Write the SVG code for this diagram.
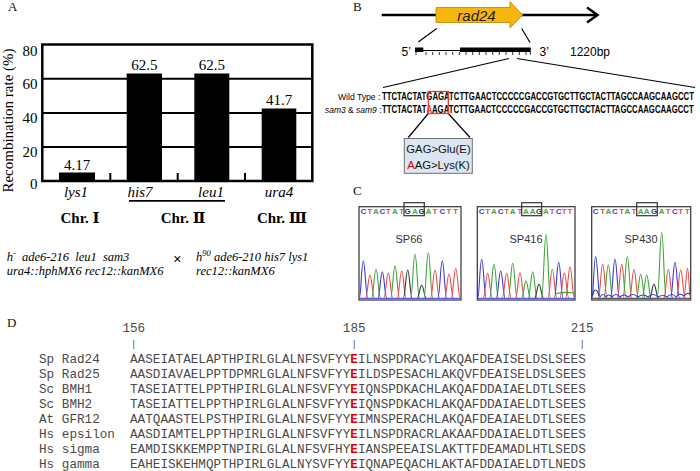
<svg xmlns="http://www.w3.org/2000/svg" width="700" height="471" viewBox="0 0 700 471">
<style>
.serif{font-family:"Liberation Serif","Times New Roman","DejaVu Serif",serif}
.sans{font-family:"Liberation Sans",Arial,sans-serif}
.mono{font-family:"Liberation Mono","Courier New",monospace;font-size:12.67px;fill:#4a4a4a}
.lbl{font-size:13px;fill:#111}
.ax{font-size:15px;fill:#000}
.gene{font-size:15px;font-style:italic}
.chr{font-size:15px;font-weight:bold}
.geno{font-size:12.5px;font-style:italic}
.grid{stroke:#000;stroke-width:2;fill:none}
.bar{fill:#000}
.ln{stroke:#000;stroke-width:1.2;fill:none}
.seqt{font-size:10px;font-weight:bold;fill:#000}
.pk{fill:none;stroke-width:1.1}
.b{stroke:#3b3bd8}.r{stroke:#ee4b45}.g{stroke:#3ca83c}.k{stroke:#333}
.cb{fill:#3b3bd8}.cr{fill:#ee4b45}.cg{fill:#3ca83c}.ck{fill:#333}
.chrom{fill:#fff;stroke:#333;stroke-width:1.2}
.hl{fill:none;stroke:#333;stroke-width:1.2}
.lt{font-size:8px;font-weight:bold}
.sp{font-size:11px;fill:#333}
.E{font-weight:bold;fill:#e00000}
</style>

<!-- Panel A -->
<g id="panelA">
  <text class="serif lbl" x="8" y="11">A</text>
  <text class="serif ax" transform="translate(13,120.5) rotate(-90)" text-anchor="middle">Recombination rate (%)</text>
  <g id="axisA">
    <line class="grid" x1="42.3" y1="78.8" x2="312.3" y2="78.8"/>
    <line class="grid" x1="42.3" y1="112.9" x2="312.3" y2="112.9"/>
    <line class="grid" x1="42.3" y1="146.9" x2="312.3" y2="146.9"/>
    <rect x="42.3" y="44.5" width="270" height="136.5" fill="none" stroke="#000" stroke-width="2.5"/>
    <g class="serif ax" text-anchor="end">
      <text x="37.5" y="55.5">80</text>
      <text x="37.5" y="89">60</text>
      <text x="37.5" y="123">40</text>
      <text x="37.5" y="157">20</text>
      <text x="37.5" y="189">0</text>
    </g>
    <line class="grid" x1="110.3" y1="173" x2="110.3" y2="181"/>
    <line class="grid" x1="177.7" y1="173" x2="177.7" y2="181"/>
    <line class="grid" x1="245" y1="173" x2="245" y2="181"/>
  </g>
  <g id="bar-lys1">
    <rect class="bar" x="59" y="172.5" width="36" height="8.5"/>
    <text class="serif ax" x="77" y="169.5" text-anchor="middle">4.17</text>
    <text class="serif gene" x="76" y="197" text-anchor="middle">lys1</text>
  </g>
  <g id="bar-his7">
    <rect class="bar" x="126.7" y="73.5" width="35.3" height="107.5"/>
    <text class="serif ax" x="144.3" y="70" text-anchor="middle">62.5</text>
    <text class="serif gene" x="140" y="197" text-anchor="middle">his7</text>
  </g>
  <g id="bar-leu1">
    <rect class="bar" x="194.3" y="73.5" width="35" height="107.5"/>
    <text class="serif ax" x="211.8" y="70" text-anchor="middle">62.5</text>
    <text class="serif gene" x="211" y="197" text-anchor="middle">leu1</text>
  </g>
  <g id="bar-ura4">
    <rect class="bar" x="261.7" y="108.5" width="34.6" height="72.5"/>
    <text class="serif ax" x="279" y="105" text-anchor="middle">41.7</text>
    <text class="serif gene" x="279" y="197" text-anchor="middle">ura4</text>
  </g>
  <line x1="129" y1="200.8" x2="225" y2="200.8" stroke="#000" stroke-width="1.8"/>
  <g class="serif chr" text-anchor="middle">
    <text x="80" y="223">Chr.  Ⅰ</text>
    <text x="183" y="223">Chr.  Ⅱ</text>
    <text x="282" y="223">Chr.  Ⅲ</text>
  </g>
  <g id="cross">
    <text class="serif geno" x="6.7" y="260.5" word-spacing="3">h<tspan dy="-5" font-size="8.5">-</tspan><tspan dy="5"> ade6-216 leu1 sam3</tspan></text>
    <text class="serif geno" x="6.7" y="274.5">ura4::hphMX6 rec12::kanMX6</text>
    <text class="sans" x="177.3" y="264" font-size="14" text-anchor="middle">×</text>
    <text class="serif geno" x="196" y="260.5">h<tspan dy="-5" font-size="8.5">90</tspan><tspan dy="5"> ade6-210 his7 lys1</tspan></text>
    <text class="serif geno" x="196" y="274.5">rec12::kanMX6</text>
  </g>
</g>

<!-- Panel B -->
<g id="panelB">
  <text class="serif lbl" x="353" y="10.5">B</text>
  <g id="locus">
    <line x1="381.7" y1="15" x2="597" y2="15" stroke="#000" stroke-width="2.5"/>
    <polyline points="587,7.5 597.5,15 587,22.5" fill="none" stroke="#000" stroke-width="2.5"/>
    <path d="M436,7.5H510V1.5L522.7,15L510,28V22.5H436Z" fill="#f6b60e" stroke="#b88400" stroke-width="0.8"/>
    <text class="sans" x="476.5" y="20.5" font-size="15" font-style="italic" text-anchor="middle" fill="#222">rad24</text>
  </g>
  <g id="connectorsB">
    <line class="ln" x1="436.7" y1="28.5" x2="418.3" y2="42"/>
    <line class="ln" x1="521.7" y1="28.5" x2="530" y2="42.5"/>
    <line class="ln" x1="509" y1="58.5" x2="383" y2="87.5"/>
    <line class="ln" x1="517" y1="58.5" x2="695" y2="87.5"/>
    <line class="ln" x1="428.3" y1="113.5" x2="408.3" y2="137.5"/>
    <line class="ln" x1="448.3" y1="113.5" x2="470" y2="137.5"/>
  </g>
  <g id="genestructure">
    <rect x="415" y="47.5" width="8.3" height="4.5" fill="#000"/>
    <line x1="423" y1="50.5" x2="460" y2="50.5" stroke="#000" stroke-width="1"/>
    <rect x="460" y="47.5" width="70.7" height="4.5" fill="#000"/>
    <path d="M416,52V55M426,52V55M432.7,52V55M439.3,52V55M446,52V55M452.7,52V55M459.3,52V55M466,52V55M472.7,52V55M479.3,52V55M486,52V55M492.7,52V55M499.3,52V55M506,52V55M512.7,52V55M519.3,52V55M526,52V55M530.3,52V55" stroke="#000" stroke-width="0.8"/>
    <text class="sans" x="401.5" y="56" font-size="12">5’</text>
    <text class="sans" x="539.5" y="56" font-size="12">3’</text>
    <text class="sans" x="570" y="56" font-size="12">1220bp</text>
  </g>
  <g id="sequences">
    <text class="sans" transform="translate(338,100) scale(0.896,1)" font-size="9.6">Wild Type :</text>
    <text class="sans seqt" transform="translate(382,100) scale(0.777,1)">TTCTACTATGAGATCTTGAACTCCCCCGACCGTGCTTGCTACTTAGCCAAGCAAGCCT</text>
    <text class="sans" transform="translate(325,112.7) scale(0.883,1)" font-size="9.6"><tspan font-style="italic">sam3</tspan> &amp; <tspan font-style="italic">sam9</tspan> :</text>
    <text class="sans seqt" transform="translate(382,112.7) scale(0.778,1)">TTCTACTAT<tspan fill="#e8383d">A</tspan>AGATCTTGAACTCCCCCGACCGTGCTTGCTACTTAGCCAAGCAAGCCT</text>
    <rect x="428.3" y="91.5" width="20" height="22" fill="none" stroke="#e8383d" stroke-width="1.3"/>
  </g>
  <g id="codonbox">
    <rect x="404.3" y="138.5" width="68" height="34.8" fill="#dce6f2" stroke="#6f6f6f" stroke-width="1"/>
    <text class="sans" x="438.5" y="153.3" font-size="11.3" text-anchor="middle" fill="#111">GAG&gt;Glu(E)</text>
    <text class="sans" x="438.5" y="168.6" font-size="11.3" text-anchor="middle" fill="#111"><tspan fill="#e00000">A</tspan>AG&gt;Lys(K)</text>
  </g>
</g>

<!-- Panel C -->
<g id="panelC">
  <text class="serif lbl" x="353" y="194.5" font-size="14">C</text>
  <g id="SP66">
    <rect class="chrom" x="359" y="206.7" width="102" height="93.3"/>
    <text class="sans lt" y="214" text-anchor="middle" x="363.3 370 376 382.3 388.3 395 401.7 407.7 415 421.7 428.3 435 442.3 449 455.7"><tspan class="cb">C</tspan><tspan class="cr">T</tspan><tspan class="cg">A</tspan><tspan class="cb">C</tspan><tspan class="cr">T</tspan><tspan class="cg">A</tspan><tspan class="cr">T</tspan><tspan class="ck">G</tspan><tspan class="cg">A</tspan><tspan class="ck">G</tspan><tspan class="cg">A</tspan><tspan class="cr">T</tspan><tspan class="cb">C</tspan><tspan class="cr">T</tspan><tspan class="cr">T</tspan></text>
    <rect class="hl" x="404" y="202.7" width="20.3" height="13"/>
    <text class="sans sp" x="409" y="243" text-anchor="middle">SP66</text>
    <path class="pk b" d="M359.5,298C360.8,298 361.5,261 363.3,261C365.1,261 365.8,298 367.8,298"/>
    <path class="pk r" d="M365.5,298C367.5,298 368.2,275 370,275C371.8,275 372.5,298 374.5,298"/>
    <path class="pk g" d="M371.5,298C373.5,298 374.2,269 376,269C377.8,269 378.5,298 380.5,298"/>
    <path class="pk b" d="M377.8,298C379.8,298 380.5,271.7 382.3,271.7C384.1,271.7 384.8,298 386.8,298"/>
    <path class="pk r" d="M383.8,298C385.8,298 386.5,273 388.3,273C390.1,273 390.8,298 392.8,298"/>
    <path class="pk g" d="M390.5,298C392.5,298 393.2,265.7 395,265.7C396.8,265.7 397.5,298 399.5,298"/>
    <path class="pk r" d="M397.2,298C399.2,298 399.9,271 401.7,271C403.5,271 404.2,298 406.2,298"/>
    <path class="pk k" d="M403.2,298C405.2,298 405.9,270 407.7,270C409.5,270 410.2,298 412.2,298"/>
    <path class="pk g" d="M410.5,298C412.5,298 413.2,254 415,254C416.8,254 417.5,298 419.5,298"/>
    <path class="pk k" d="M417.2,298C419.2,298 419.9,285 421.7,285C423.5,285 424.2,298 426.2,298"/>
    <path class="pk g" d="M423.8,298C425.8,298 426.5,252.7 428.3,252.7C430.1,252.7 430.8,298 432.8,298"/>
    <path class="pk r" d="M430.5,298C432.5,298 433.2,270 435,270C436.8,270 437.5,298 439.5,298"/>
    <path class="pk b" d="M437.8,298C439.8,298 440.5,261 442.3,261C444.1,261 444.8,298 446.8,298"/>
    <path class="pk r" d="M444.5,298C446.5,298 447.2,274 449,274C450.8,274 451.5,298 453.5,298"/>
    <path class="pk r" d="M451.2,298C453.2,298 453.9,268.3 455.7,268.3C457.5,268.3 458.2,298 460.2,298"/>
    <line x1="359.5" y1="298.3" x2="460.5" y2="298.3" stroke="#3b3bd8" stroke-width="1"/>
  </g>
  <g id="SP416">
    <rect class="chrom" x="477.3" y="206.7" width="97.7" height="93.3"/>
    <text class="sans lt" y="214" text-anchor="middle" x="481.7 487.7 494 500.7 506.7 512.7 520 526 532.7 539 546 552.3 558.7 564.3 570"><tspan class="cb">C</tspan><tspan class="cr">T</tspan><tspan class="cg">A</tspan><tspan class="cb">C</tspan><tspan class="cr">T</tspan><tspan class="cg">A</tspan><tspan class="cr">T</tspan><tspan class="cg">A</tspan><tspan class="cg">A</tspan><tspan class="ck">G</tspan><tspan class="cg">A</tspan><tspan class="cr">T</tspan><tspan class="cb">C</tspan><tspan class="cr">T</tspan><tspan class="cr">T</tspan></text>
    <rect class="hl" x="521.7" y="202.7" width="20" height="13"/>
    <text class="sans sp" x="526" y="243" text-anchor="middle">SP416</text>
    <path class="pk b" d="M477.8,298C479.2,298 479.9,259.3 481.7,259.3C483.5,259.3 484.2,298 486.2,298"/>
    <path class="pk r" d="M483.2,298C485.2,298 485.9,273.3 487.7,273.3C489.5,273.3 490.2,298 492.2,298"/>
    <path class="pk g" d="M489.5,298C491.5,298 492.2,264.3 494,264.3C495.8,264.3 496.5,298 498.5,298"/>
    <path class="pk b" d="M496.2,298C498.2,298 498.9,271 500.7,271C502.5,271 503.2,298 505.2,298"/>
    <path class="pk r" d="M502.2,298C504.2,298 504.9,273.3 506.7,273.3C508.5,273.3 509.2,298 511.2,298"/>
    <path class="pk g" d="M508.2,298C510.2,298 510.9,263.3 512.7,263.3C514.5,263.3 515.2,298 517.2,298"/>
    <path class="pk r" d="M515.5,298C517.5,298 518.2,272.7 520,272.7C521.8,272.7 522.5,298 524.5,298"/>
    <path class="pk g" d="M521.5,298C523.5,298 524.2,281 526,281C527.8,281 528.5,298 530.5,298"/>
    <path class="pk g" d="M528.2,298C530.2,298 530.9,271.7 532.7,271.7C534.5,271.7 535.2,298 537.2,298"/>
    <path class="pk k" d="M534.5,298C536.5,298 537.2,284.3 539,284.3C540.8,284.3 541.5,298 543.5,298"/>
    <path class="pk g" d="M541.5,298C543.5,298 544.2,234.3 546,234.3C547.8,234.3 548.5,298 550.5,298"/>
    <path class="pk r" d="M547.8,298C549.8,298 550.5,269.3 552.3,269.3C554.1,269.3 554.8,298 556.8,298"/>
    <path class="pk b" d="M554.2,298C556.2,298 556.9,262.3 558.7,262.3C560.5,262.3 561.2,298 563.2,298"/>
    <path class="pk r" d="M559.8,298C561.8,298 562.5,272.7 564.3,272.7C566.1,272.7 566.8,298 568.8,298"/>
    <path class="pk r" d="M565.5,298C567.5,298 568.2,266.7 570,266.7C571.8,266.7 572.5,298 574.5,298"/>
    <path class="pk g" d="M555,294C560,292 566,292 574.5,293"/>
    <line x1="477.8" y1="298.3" x2="574.5" y2="298.3" stroke="#3b3bd8" stroke-width="1"/>
  </g>
  <g id="SP430">
    <rect class="chrom" x="591.7" y="206.7" width="99" height="93.3"/>
    <text class="sans lt" y="214" text-anchor="middle" x="595.7 602.7 608.3 615 621.7 627.3 634 640.7 646.7 654 661.7 668.3 675 680.7 687.5"><tspan class="cb">C</tspan><tspan class="cr">T</tspan><tspan class="cg">A</tspan><tspan class="cb">C</tspan><tspan class="cr">T</tspan><tspan class="cg">A</tspan><tspan class="cr">T</tspan><tspan class="cg">A</tspan><tspan class="cg">A</tspan><tspan class="ck">G</tspan><tspan class="cg">A</tspan><tspan class="cr">T</tspan><tspan class="cb">C</tspan><tspan class="cr">T</tspan><tspan class="cr">T</tspan></text>
    <rect class="hl" x="636.7" y="202.7" width="20.6" height="13"/>
    <text class="sans sp" x="641" y="243" text-anchor="middle">SP430</text>
    <path class="pk b" d="M592.2,298C593.2,298 593.9,256.7 595.7,256.7C597.5,256.7 598.2,298 600.2,298"/>
    <path class="pk r" d="M598.2,298C600.2,298 600.9,264.3 602.7,264.3C604.5,264.3 605.2,298 607.2,298"/>
    <path class="pk g" d="M603.8,298C605.8,298 606.5,265 608.3,265C610.1,265 610.8,298 612.8,298"/>
    <path class="pk b" d="M610.5,298C612.5,298 613.2,259.3 615,259.3C616.8,259.3 617.5,298 619.5,298"/>
    <path class="pk r" d="M617.2,298C619.2,298 619.9,264.3 621.7,264.3C623.5,264.3 624.2,298 626.2,298"/>
    <path class="pk g" d="M622.8,298C624.8,298 625.5,256.7 627.3,256.7C629.1,256.7 629.8,298 631.8,298"/>
    <path class="pk r" d="M629.5,298C631.5,298 632.2,269.3 634,269.3C635.8,269.3 636.5,298 638.5,298"/>
    <path class="pk g" d="M636.2,298C638.2,298 638.9,274.3 640.7,274.3C642.5,274.3 643.2,298 645.2,298"/>
    <path class="pk g" d="M642.2,298C644.2,298 644.9,275 646.7,275C648.5,275 649.2,298 651.2,298"/>
    <path class="pk k" d="M649.5,298C651.5,298 652.2,284.3 654,284.3C655.8,284.3 656.5,298 658.5,298"/>
    <path class="pk g" d="M657.2,298C659.2,298 659.9,232.3 661.7,232.3C663.5,232.3 664.2,298 666.2,298"/>
    <path class="pk r" d="M663.8,298C665.8,298 666.5,269.3 668.3,269.3C670.1,269.3 670.8,298 672.8,298"/>
    <path class="pk b" d="M670.5,298C672.5,298 673.2,262.3 675,262.3C676.8,262.3 677.5,298 679.5,298"/>
    <path class="pk r" d="M676.2,298C678.2,298 678.9,270 680.7,270C682.5,270 683.2,298 685.2,298"/>
    <path class="pk r" d="M683.5,298C685.5,298 686.2,268.3 687.5,268.3C688.8,268.3 689.5,298 690.2,298"/>
    <path class="pk k" d="M592.5,296C594,288 597,288 599,296"/>
    <path class="pk b" d="M600,297Q603,292 606,297Q609,293 612,297Q616,292 620,297Q624,293 628,297Q633,292 638,297Q643,293 648,297Q653,292 658,297Q663,294 667,297Q672,292 676,297Q680,292 684,296Q687,292 690,294"/>
    <line x1="592.2" y1="298.3" x2="690.2" y2="298.3" stroke="#333" stroke-width="1"/>
  </g>
</g>

<!-- Panel D -->
<g id="panelD">
  <text class="serif lbl" x="7" y="327">D</text>
  <g class="mono" text-anchor="middle">
    <text x="133.8" y="332">156</text>
    <text x="354.2" y="332">185</text>
    <text x="582.2" y="332">215</text>
    <text x="133.8" y="347" font-size="9">|</text>
    <text x="354.2" y="347" font-size="9">|</text>
    <text x="582.2" y="347" font-size="9">|</text>
  </g>
  <g id="names" class="mono">
    <text x="39" y="363">Sp Rad24</text>
    <text x="39" y="378">Sp Rad25</text>
    <text x="39" y="393">Sc BMH1</text>
    <text x="39" y="408">Sc BMH2</text>
    <text x="39" y="423">At GFR12</text>
    <text x="39" y="438">Hs epsilon</text>
    <text x="39" y="453">Hs sigma</text>
    <text x="39" y="468">Hs gamma</text>
  </g>
  <g id="alignment" class="mono">
    <text x="130" y="363">AASEIATAELAPTHPIRLGLALNFSVFYY<tspan class="E">E</tspan>ILNSPDRACYLAKQAFDEAISELDSLSEES</text>
    <text x="130" y="378">AASDIAVAELPPTDPMRLGLALNFSVFYY<tspan class="E">E</tspan>ILDSPESACHLAKQVFDEAISELDSLSEES</text>
    <text x="130" y="393">TASEIATTELPPTHPIRLGLALNFSVFYY<tspan class="E">E</tspan>IQNSPDKACHLAKQAFDDAIAELDTLSEES</text>
    <text x="130" y="408">TASEIATTELPPTHPIRLGLALNFSVFYY<tspan class="E">E</tspan>IQNSPDKACHLAKQAFDDAIAELDTLSEES</text>
    <text x="130" y="423">AATQAASTELPSTHPIRLGLALNFSVFYY<tspan class="E">E</tspan>IMNSPERACHLAKQAFDEAIAELDTLSEES</text>
    <text x="130" y="438">AASDIAMTELPPTHPIRLGLALNFSVFYY<tspan class="E">E</tspan>ILNSPDRACRLAKAAFDDAIAELDTLSEES</text>
    <text x="130" y="453">EAMDISKKEMPPTNPIRLGLALNFSVFHY<tspan class="E">E</tspan>IANSPEEAISLAKTTFDEAMADLHTLSEDS</text>
    <text x="130" y="468">EAHEISKEHMQPTHPIRLGLALNYSVFYY<tspan class="E">E</tspan>IQNAPEQACHLAKTAFDDAIAELDTLNEDS</text>
  </g>
</g>
</svg>
